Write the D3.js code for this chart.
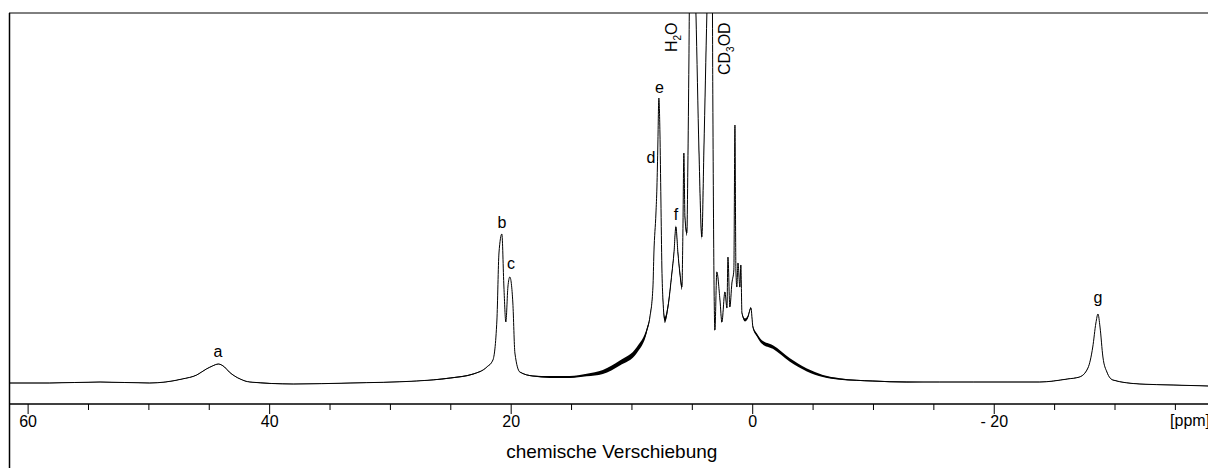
<!DOCTYPE html>
<html><head><meta charset="utf-8">
<script src="https://cdn.jsdelivr.net/npm/d3@7"></script>
<style>html,body{margin:0;padding:0;background:#fff;} svg{display:block;font-family:"Liberation Sans",Arial,sans-serif;}</style>
</head><body><svg id="chart" width="1208" height="468"></svg>
<script>
// ---- data ----
const ppm = [61.5,58.2,54.0,49.9,47.2,46.0,45.2,44.7,44.2,43.7,43.3,42.4,41.6,38.0,33.3,27.8,25.0,23.1,21.97,21.47,
  21.14,20.97,20.73,20.56,20.40,20.23,20.07,19.82,19.65,19.24,18.16,16.75,15.1,13.7,12.37,10.96,9.55,8.72,8.47,8.22,
  8.14,7.97,7.89,7.85,7.81,7.73,7.64,7.56,7.48,7.39,7.23,6.98,6.65,6.48,6.32,6.15,5.99,5.82,5.74,5.66,
  5.57,5.41,5.33,5.24,5.16,4.91,4.66,4.41,4.17,4.00,3.75,3.59,3.34,3.26,3.17,3.09,2.93,2.67,2.51,2.26,
  2.09,2.01,1.85,1.68,1.52,1.43,1.35,1.27,1.18,1.02,0.94,0.85,0.60,0.36,0.11,-0.06,-0.39,-0.80,-1.71,-3.12,
  -4.53,-5.85,-7.25,-9.99,-12.8,-15.5,-18.3,-21.1,-23.8,-26.1,-27.1,-27.8,-28.2,-28.46,-28.63,-28.8,-29.04,-29.37,-29.87,-32.1,
  -34.85,-37.8];
const intensity = [0,0,1,0,4,8,14,17,19,16,11,4,1,-1,0,2,5,9,16,23,
  63,130,149,96,61,96,106,80,30,11,7,6,6,8,11,20,33,53,66,96,
  130,170,196,216,240,285,250,183,116,83,63,76,110,130,156,130,110,96,150,230,
  166,150,216,323,433,480,370,233,146,233,370,440,480,283,110,53,111,83,61,91,
  75,126,76,100,113,258,113,96,120,96,118,70,63,66,75,56,48,41,36,23,
  13,7,4,2,1,1,1,1,1,4,6,15,36,60,69,56,26,11,3,-1,
  -2,-3];
const noise = [0.3,0.3,0.3,0.3,0.3,0.3,0.3,0.3,0.3,0.3,0.3,0.3,0.3,0.3,0.3,0.3,0.5,0.5,0.3,0.3,
  0,0,0,0,0,0,0,0,0,0.3,0.6,1,1,1.3,2,2.5,3,2.2,1.5,0.5,
  0.5,0.5,0.5,1,0,0,0,0,1,2,3,3,2.5,2,1.5,2.5,3,3,1,0,
  2,3,2,1,0,0,2,3,3,3,2,0,0,0,0,1,0.5,0.5,1,0.5,
  0.5,0,0.5,0.5,0.5,0,0.5,0.5,0.5,0.5,0.5,1,1.5,1.5,1,1.5,1.5,1.8,1.8,1.8,
  1.4,1,0.8,0.5,0.5,0.3,0.3,0.3,0.3,0.3,0.3,0.3,0,0,0,0,0,0.3,0.3,0.3,
  0.3,0.3];

const majorTicks = [60,40,20,0,-20];
const minorTicks = [55,50,45,35,30,25,15,10,5,-5,-10,-15,-25,-30,-35];
const axisUnit = "[ppm]";
const axisTitle = "chemische Verschiebung";
const peakNames = ["a","b","c","d","e","f","g"];
const peakLabelPpm = [44.24,20.73,19.98,8.39,7.68,6.32,-28.63];
const peakLabelLevel = [26,155,114,220,290,163,80];
const solventParts = [["H","2","O"],["CD","3","OD"]];
const solventPpm = [6.24,1.85];
const solventLevel = [331,308];

// ---- drawing ----
const W = 1208, H = 468;
const plot = {left: 9.5, top: 13, base: 404};
const svg = d3.select("#chart");
const x = d3.scaleLinear().domain([61.5, -37.8]).range([plot.left, 1208.7]);
const y = d3.scaleLinear().domain([0, 370]).range([383, 13]);

const pts = ppm.map((p, i) => ({p, v: intensity[i], n: noise[i]}));

svg.append("defs").append("clipPath").attr("id", "clip")
  .append("rect").attr("x", plot.left).attr("y", plot.top)
  .attr("width", W - plot.left).attr("height", plot.base - plot.top);

const g = svg.append("g").attr("clip-path", "url(#clip)");
const area = d3.area().x(d => x(d.p)).y0(d => y(d.v - d.n)).y1(d => y(d.v + d.n)).curve(d3.curveMonotoneX);
g.append("path").datum(pts).attr("d", area).attr("fill", "#000");
const line = d3.line().x(d => x(d.p)).y(d => y(d.v)).curve(d3.curveMonotoneX);
g.append("path").datum(pts).attr("d", line).attr("fill", "none").attr("stroke", "#000").attr("stroke-width", 1);

// frame
svg.append("line").attr("x1", plot.left - 0.5).attr("x2", W).attr("y1", plot.top).attr("y2", plot.top)
  .attr("stroke", "#000").attr("stroke-width", 1);
svg.append("line").attr("x1", plot.left).attr("x2", plot.left).attr("y1", plot.top).attr("y2", H)
  .attr("stroke", "#000").attr("stroke-width", 1.5);
svg.append("line").attr("x1", plot.left).attr("x2", W).attr("y1", plot.base).attr("y2", plot.base)
  .attr("stroke", "#000").attr("stroke-width", 1.3);

// axes
const gMinor = svg.append("g").attr("transform", `translate(0,${plot.base})`)
  .call(d3.axisBottom(x).tickValues(minorTicks).tickSize(6).tickFormat(""));
gMinor.select(".domain").remove();
const gMajor = svg.append("g").attr("transform", `translate(0,${plot.base})`)
  .call(d3.axisBottom(x).tickValues(majorTicks).tickSize(10).tickPadding(1.5)
    .tickFormat(d => d < 0 ? "- " + Math.abs(d) : String(d)));
gMajor.select(".domain").remove();
svg.selectAll(".tick line").attr("stroke", "#000");
gMajor.attr("font-family", '"Liberation Sans", Arial, sans-serif').attr("font-size", 16);
gMajor.selectAll("text").attr("fill", "#000");

svg.append("text").attr("x", x(-34.6)).attr("y", plot.base + 22.4)
  .attr("font-size", 16).attr("fill", "#000").text(axisUnit);
svg.append("text").attr("x", (plot.left + W) / 2 + 3).attr("y", 458)
  .attr("text-anchor", "middle").attr("font-size", 19).attr("fill", "#000").text(axisTitle);

// peak labels
peakNames.forEach((t, i) => {
  svg.append("text").attr("x", x(peakLabelPpm[i])).attr("y", y(peakLabelLevel[i]))
    .attr("text-anchor", "middle").attr("font-size", 16).attr("fill", "#000").text(t);
});
solventParts.forEach((parts, i) => {
  const t = svg.append("text")
    .attr("transform", `translate(${x(solventPpm[i])},${y(solventLevel[i])}) rotate(-90)`)
    .attr("font-size", 16).attr("fill", "#000");
  t.append("tspan").text(parts[0]);
  t.append("tspan").attr("font-size", 10).attr("dy", 4).text(parts[1]);
  t.append("tspan").attr("dy", -4).text(parts[2]);
});
</script></body></html>
